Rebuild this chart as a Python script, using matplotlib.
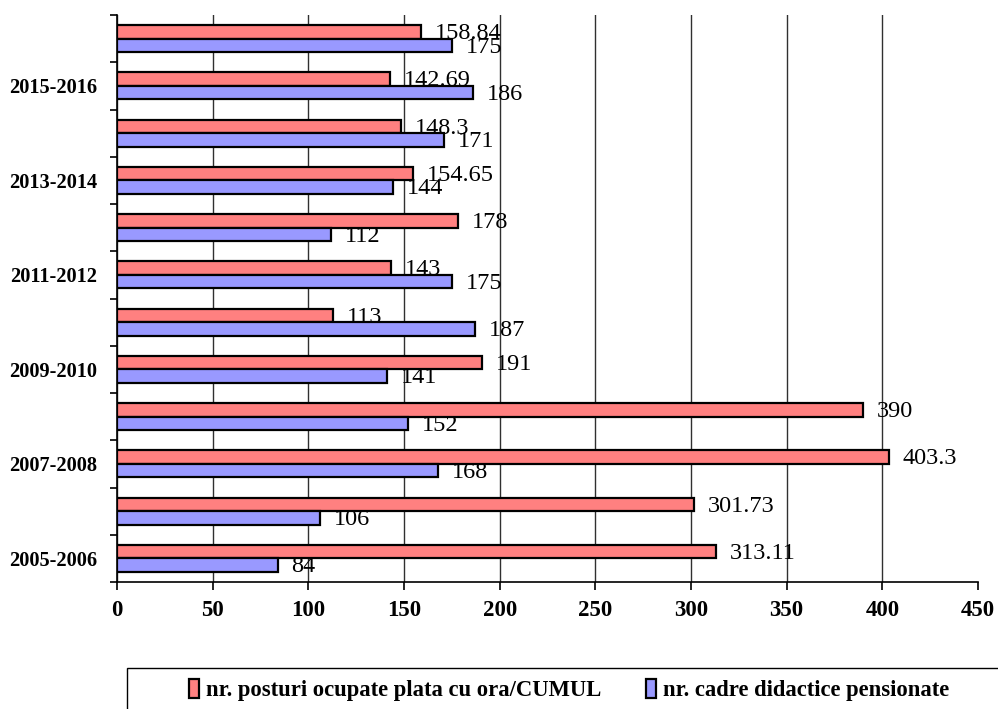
import matplotlib
matplotlib.use("Agg")
import matplotlib.pyplot as plt
import numpy as np
from matplotlib.patches import Rectangle

categories = ["2005-2006", "2006-2007", "2007-2008", "2008-2009", "2009-2010",
              "2010-2011", "2011-2012", "2012-2013", "2013-2014", "2014-2015",
              "2015-2016", "2016-2017"]
posturi = [313.11, 301.73, 403.3, 390, 191, 113, 143, 178, 154.65, 148.3, 142.69, 158.84]
pensionate = [84, 106, 168, 152, 141, 187, 175, 112, 144, 171, 186, 175]
label_posturi = "nr. posturi ocupate plata cu ora/CUMUL"
label_pens = "nr. cadre didactice pensionate"
xticks = [0, 50, 100, 150, 200, 250, 300, 350, 400, 450]

plt.rcParams['font.family'] = ['Liberation Serif', 'DejaVu Serif']

fig = plt.figure(figsize=(9.98, 7.09), dpi=100)
ax = fig.add_axes([117/998, 1 - 582/709, (978-117)/998, (582-15)/709])

y = np.arange(len(categories))
h = 0.286
red = "#FF8080"
blue = "#9999FF"
b1 = ax.barh(y + h/2, posturi, height=h, color=red, edgecolor='black', linewidth=1.6, zorder=3,
             label=label_posturi)
b2 = ax.barh(y - h/2, pensionate, height=h, color=blue, edgecolor='black', linewidth=1.6, zorder=3,
             label=label_pens)

for yy, v in zip(y + h/2, posturi):
    ax.annotate(f"{v:g}", (v, yy), xytext=(10, -1.2), textcoords='offset points',
                va='center', ha='left', fontsize=17.5, zorder=4)
for yy, v in zip(y - h/2, pensionate):
    ax.annotate(f"{v:g}", (v, yy), xytext=(10, -1.2), textcoords='offset points',
                va='center', ha='left', fontsize=17.5, zorder=4)

ax.set_xlim(0, 450)
ax.set_ylim(-0.5, len(categories) - 0.5)
ax.set_xticks(xticks)
ax.set_xticklabels([str(t) for t in xticks], fontsize=16.5, fontweight='bold')
ax.tick_params(axis='x', direction='out', length=6, width=1.2, pad=7)

ax.set_yticks(np.arange(-0.5, len(categories), 1.0))
ax.set_yticklabels([])
ax.tick_params(axis='y', which='major', direction='out', length=5, width=1.2)
ax.set_yticks(y, minor=True)
ax.set_yticklabels([c if i % 2 == 0 else '' for i, c in enumerate(categories)], minor=True,
                   fontsize=14.7, fontweight='bold')
ax.tick_params(axis='y', which='minor', length=0, pad=14)

ax.grid(axis='x', color='#303030', linewidth=1.0, zorder=0)
ax.get_xgridlines()[-1].set_visible(False)
ax.set_axisbelow(True)
for s in ['top', 'right']:
    ax.spines[s].set_visible(False)
ax.spines['left'].set_linewidth(1.2)
ax.spines['bottom'].set_linewidth(1.2)

# legend box (clipped by figure edge)
fig.patches.append(Rectangle((127/998, -0.05), 1.0, (709-668)/709 + 0.05, transform=fig.transFigure,
                             facecolor='white', edgecolor='black', linewidth=1.0))
leg = fig.legend(handles=[b1, b2], loc='center', bbox_to_anchor=(569/998, 1 - 690/709), ncol=2,
                 frameon=False, prop={'family': 'Liberation Serif', 'weight': 'bold', 'size': 16.3},
                 handlelength=0.45, handleheight=0.9, handletextpad=0.3, columnspacing=2.0)

fig.savefig("out.png", dpi=100)
